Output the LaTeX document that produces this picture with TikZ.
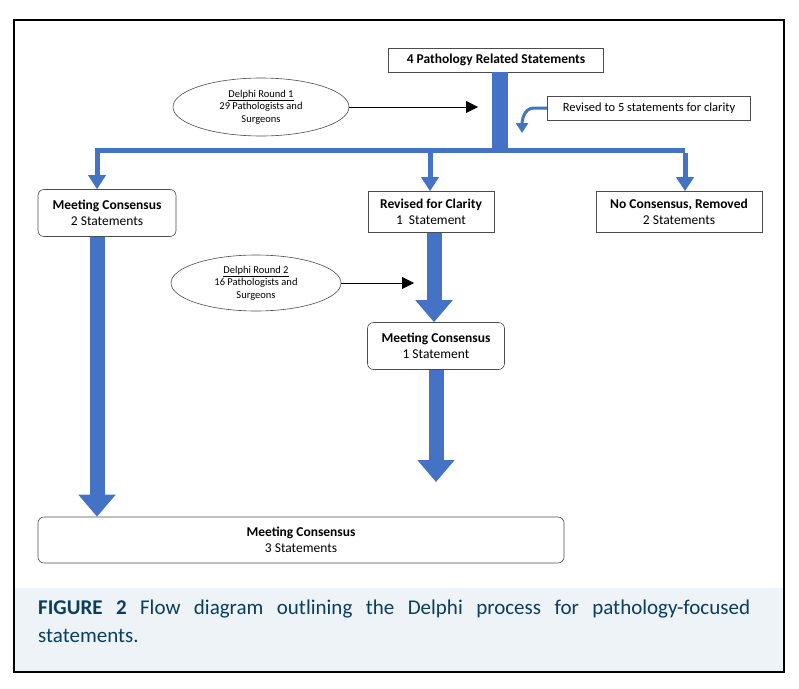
\documentclass[tikz,border=0pt]{standalone}
\usepackage{fontspec}
\setmainfont{Carlito}
\usetikzlibrary{arrows.meta,shapes.geometric}
\definecolor{bl}{HTML}{4472C4}
\definecolor{capbg}{HTML}{EEF3F8}
\definecolor{capfg}{HTML}{0B3D5C}
\begin{document}
\begin{tikzpicture}[x=1pt,y=-1pt,
 box/.style={draw=black!70,fill=white,align=center,font=\fontsize{13.5}{16}\selectfont,inner sep=2pt,line width=0.6pt},
 rbox/.style={box,rounded corners=6pt},
 ell/.style={draw=black!70,ellipse,align=center,font=\fontsize{10.5}{12.5}\selectfont,inner sep=0pt,line width=0.6pt},
 fat/.style={draw=bl,line width=15pt,-{Triangle[width=36pt,length=22pt]}},
 thin/.style={draw=bl,line width=5pt,-{Triangle[width=17pt,length=14pt]}},
 blk/.style={draw=black,line width=0.8pt,-{Triangle[width=12pt,length=12pt]}}]
\useasboundingbox (0,0) rectangle (799,688);
\fill[capbg] (14,588) rectangle (784,672);
\draw[line width=1.2pt] (14,20) rectangle (784,672);
\node[anchor=north west,text width=712pt,align=justify,font=\fontsize{21}{28}\selectfont,color=capfg,inner sep=0pt] (cap) at (38,600) {\textbf{FIGURE 2} Flow diagram outlining the Delphi process for pathology-focused\linebreak statements.};

\node[box,minimum width=215pt,minimum height=24pt] (top) at (496,60) {\textbf{4 Pathology Related Statements}};
\coordinate (j) at (500,150);
\draw[bl,line width=16pt] (top.south -| j) -- ([yshift=2.5pt]j);
\draw[bl,line width=5pt] (95,150) -- (685,150);
\coordinate (l1) at (97,150); \coordinate (m1) at (430,150); \coordinate (r1) at (685,150);

\node[ell,minimum width=176pt,minimum height=58pt] (d1) at (261,107) {\underline{Delphi Round 1}\\29 Pathologists and\\Surgeons};
\coordinate (d1e) at (478,107);
\draw[blk] (d1.east) -- (d1e);

\node[box,minimum width=203pt,minimum height=24pt,font=\fontsize{12.5}{14}\selectfont] (rev) at (649,108) {Revised to 5 statements for clarity};
\coordinate (revt) at (522,133);
\draw[bl,line width=3pt,-{Triangle[width=12pt,length=10pt]}] (rev.west) -- (534,108) to[out=180,in=90] (revt);

\node[rbox,minimum width=138pt,minimum height=47pt] (mc2) at (107,213) {\textbf{Meeting Consensus}\\2 Statements};
\node[box,minimum width=126pt,minimum height=41pt] (rc) at (431,212) {\textbf{Revised for Clarity}\\1\ \ Statement};
\node[box,minimum width=166pt,minimum height=41pt] (nc) at (679,212) {\textbf{No Consensus, Removed}\\2 Statements};

\draw[thin] ([yshift=-2.5pt]l1) -- (mc2.north -| l1);
\draw[thin] ([yshift=-2.5pt]m1) -- (rc.north -| m1);
\draw[thin] ([yshift=-2.5pt]r1) -- (nc.north -| r1);

\node[ell,minimum width=170pt,minimum height=56pt] (d2) at (256,283) {\underline{Delphi Round 2}\\16 Pathologists and\\Surgeons};
\coordinate (d2e) at (414,283);
\draw[blk] (d2.east) -- (d2e);

\node[rbox,minimum width=137pt,minimum height=47pt] (mc1) at (436,346) {\textbf{Meeting Consensus}\\1 Statement};
\coordinate (ax) at (434,0);
\draw[fat] (rc.south -| ax) -- (mc1.north -| ax);
\coordinate (e2) at (436,482);
\draw[fat] (mc1.south) -- (e2);

\node[rbox,minimum width=526pt,minimum height=46pt] (mc3) at (301,540) {\textbf{Meeting Consensus}\\3 Statements};
\draw[fat] (mc2.south -| l1) -- (mc3.north -| l1);
\end{tikzpicture}
\end{document}
